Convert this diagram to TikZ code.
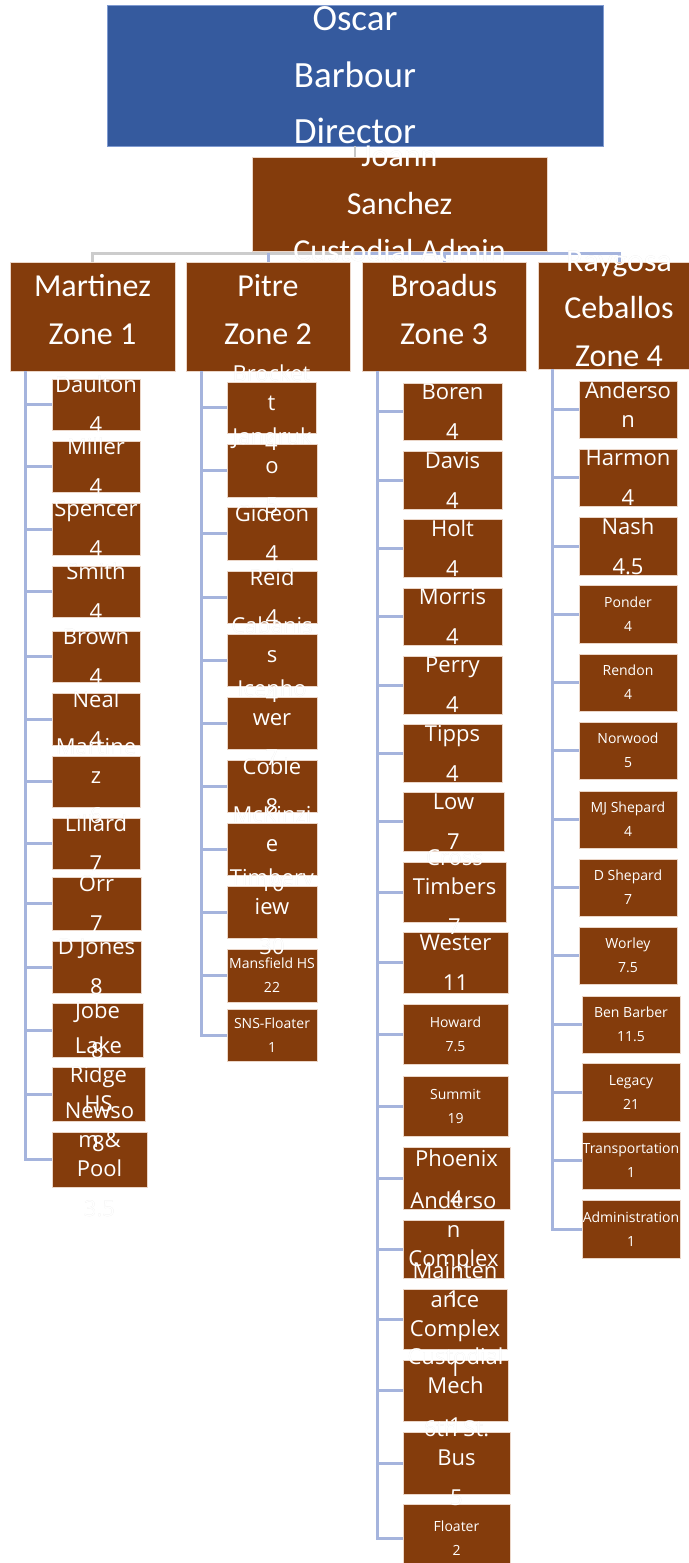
\documentclass[tikz,border=0pt]{standalone}
\usepackage{fontspec}
\newfontfamily\headfont{Carlito}
\newfontfamily\memberfont{Open Sans}
\usetikzlibrary{calc}
\pgfdeclarelayer{background}
\pgfdeclarelayer{foreground}
\pgfsetlayers{background,main,foreground}

\definecolor{custbrown}{HTML}{843C0C}
\definecolor{brownedge}{HTML}{EBD6C8}
\definecolor{chiefblue}{HTML}{355A9E}
\definecolor{chiefedge}{HTML}{7F9AD0}
\definecolor{linkblue}{HTML}{A5B4DD}
\definecolor{ghostgray}{HTML}{E2E2E2}

\tikzset{
  unit/.style={draw=brownedge, line width=0.8pt, fill=custbrown, inner sep=0pt, outer sep=0pt},
  chief/.style={unit, fill=chiefblue, draw=chiefedge},
  unittext/.style={text=white, align=center, inner sep=0pt},
  ghost/.style={text=ghostgray, align=center, inner sep=0pt},
  chieftext/.style={font=\headfont\fontsize{37}{56.5}\selectfont},
  headtext/.style={font=\headfont\fontsize{32}{47.5}\selectfont},
  zonetext/.style={headtext, yshift=7pt},
  bigtext/.style={font=\memberfont\fontsize{22}{29}\selectfont},
  bigup/.style={bigtext, yshift=5pt},
  smalltext/.style={font=\memberfont\fontsize{14}{24}\selectfont},
  link/.style={draw=linkblue, line width=3pt},
}

% name, left, top, right, bottom, box style, text style, text
\newcommand{\orgunit}[8]{%
  \node[#6, minimum width={(#4-#2)*1pt}, minimum height={(#5-#3)*1pt}] (#1) at ({(#2+#4)/2},{(#3+#5)/2}) {};
  \begin{pgfonlayer}{background}
    \node[ghost, #7] at (#1) {#8};
  \end{pgfonlayer}
  \begin{pgfonlayer}{foreground}
    \node[unittext, #7] at (#1) {#8};
  \end{pgfonlayer}}

\begin{document}
\begin{tikzpicture}[x=1pt, y=-1pt]
\useasboundingbox (0,0) rectangle (688,1563);

% top of the chart
\orgunit{oscar}{107}{5}{603}{146}{chief}{chieftext}{Oscar\\Barbour\\Director}
\orgunit{joann}{252}{157}{547}{251}{unit}{headtext}{Joann\\Sanchez\\Custodial Admin}
\draw[gray!45, line width=1.5pt] (oscar.south) -- (oscar.south |- joann.north);

% zone heads
\orgunit{zone1}{10}{262}{175}{371}{unit}{zonetext}{Martinez\\Zone 1}
\orgunit{zone2}{186}{262}{350}{371}{unit}{zonetext}{Pitre\\Zone 2}
\orgunit{zone3}{362}{262}{526}{371}{unit}{zonetext}{Broadus\\Zone 3}
\orgunit{zone4}{538}{262}{700}{369}{unit}{zonetext}{Raygosa\\Ceballos\\Zone 4}

\coordinate (bus) at (355,253);
\draw[link, draw=gray!40] (zone1.north) |- (bus);
\draw[link] (bus) -| (zone4.north);
\draw[link] (zone2.north) -- (zone2.north |- bus);
\draw[link] (zone3.north) -- (zone3.north |- bus);

\coordinate (spine1) at (25,371);
\coordinate (spine2) at (201,371);
\coordinate (spine3) at (377,371);
\coordinate (spine4) at (552,369);

% zone 1
\foreach \n/\t/\r/\b/\f/\s in {
  daulton/379/140/430/bigtext/{Daulton\\[11pt]4},
  miller/441/140/492/bigtext/{Miller\\[11pt]4},
  spencer/503/140/555/bigtext/{Spencer\\[11pt]4},
  smith/566/140/617/bigtext/{Smith\\[11pt]4},
  brown/631/140/682/bigtext/{Brown\\[11pt]4},
  neal/693/140/745/bigtext/{Neal\\[11pt]4},
  martinez/756/140/807/bigtext/{Martine\\z\\[11pt]6},
  lillard/818/140/869/bigtext/{Lillard\\[11pt]7},
  orr/877/141/930/bigtext/{Orr\\[11pt]7},
  djones/941/141/993/bigtext/{D Jones\\[11pt]8},
  jobe/1003/143/1057/bigtext/{Jobe\\[11pt]8},
  lakeridge/1067/145/1121/bigtext/{Lake\\Ridge\\HS\\[11pt]8},
  newsom/1132/147/1187/bigtext/{Newso\\m \&\\Pool\\[11pt]3.5}}
{
  \orgunit{\n}{52}{\t}{\r}{\b}{unit}{\f}{\s}
  \draw[link] (spine1) |- (\n.west);
}

% zone 2
\foreach \n/\t/\r/\b/\f/\s in {
  brockett/382/316/433/bigtext/{Brocket\\t\\[11pt]4},
  jandruko/444/317/497/bigtext/{Jandruk\\o\\[11pt]5},
  gideon/507/317/560/bigtext/{Gideon\\[11pt]4},
  reid/571/317/623/bigtext/{Reid\\[11pt]4},
  cabaniss/634/317/686/bigtext/{Cabanis\\s\\[11pt]4},
  icenhower/697/317/749/bigtext/{Icenho\\wer\\[11pt]7},
  coble/760/317/812/bigtext/{Coble\\[11pt]8},
  mckinzie/823/317/875/bigtext/{McKinzi\\e\\[11pt]10},
  timberview/886/317/938/bigtext/{Timberv\\iew\\[11pt]30},
  mansfield/949/317/1002/smalltext/{Mansfield HS\\22},
  snsfloater/1009/317/1061/smalltext/{SNS-Floater\\1}}
{
  \orgunit{\n}{227}{\t}{\r}{\b}{unit}{\f}{\s}
  \draw[link] (spine2) |- (\n.west);
}

% zone 3
\foreach \n/\t/\r/\b/\f/\s in {
  boren/383/502/440/bigtext/{Boren\\[11pt]4},
  davis/451/502/509/bigtext/{Davis\\[11pt]4},
  holt/519/502/577/bigtext/{Holt\\[11pt]4},
  morris/588/502/645/bigtext/{Morris\\[11pt]4},
  perry/656/502/714/bigtext/{Perry\\[11pt]4},
  tipps/724/502/782/bigtext/{Tipps\\[11pt]4},
  low/792/504/851/bigtext/{Low\\[11pt]7},
  crosstimbers/862/506/922/bigtext/{Cross\\Timbers\\[11pt]7},
  wester/932/508/993/bigtext/{Wester\\[11pt]11},
  howard/1004/508/1064/smalltext/{Howard\\7.5},
  summit/1076/508/1136/smalltext/{Summit\\19},
  phoenix/1147/510/1209/bigtext/{Phoenix\\[11pt]4},
  andersoncx/1220/504/1278/bigtext/{Anderso\\n\\Complex\\[11pt]1},
  maintenance/1289/507/1349/bigtext/{Mainten\\ance\\Complex\\[11pt]1},
  custmech/1360/508/1421/bigtext/{Custodial\\Mech\\[11pt]1},
  sixthbus/1432/510/1494/bigtext/{6th St.\\Bus\\[11pt]5},
  floater/1504/510/1572/smalltext/{Floater\\2}}
{
  \orgunit{\n}{403}{\t}{\r}{\b}{unit}{\f}{\s}
  \draw[link] (spine3) |- (\n.west);
}

% zone 4
\foreach \n/\l/\t/\r/\b/\f/\s in {
  anderson/579/381/677/438/bigup/{Anderso\\n},
  harmon/579/449/677/506/bigtext/{Harmon\\[11pt]4},
  nash/579/517/677/575/bigtext/{Nash\\[11pt]4.5},
  ponder/579/585/677/643/smalltext/{Ponder\\4},
  rendon/579/654/677/711/smalltext/{Rendon\\4},
  norwood/579/722/677/779/smalltext/{Norwood\\5},
  mjshepard/579/791/677/848/smalltext/{MJ Shepard\\4},
  dshepard/579/859/677/916/smalltext/{D Shepard\\7},
  worley/579/927/677/984/smalltext/{Worley\\7.5},
  benbarber/582/996/680/1053/smalltext/{Ben Barber\\11.5},
  legacy/582/1063/680/1121/smalltext/{Legacy\\21},
  transport/582/1132/680/1189/smalltext/{Transportation\\1},
  admin/582/1200/680/1258/smalltext/{Administration\\1}}
{
  \orgunit{\n}{\l}{\t}{\r}{\b}{unit}{\f}{\s}
  \draw[link] (spine4) |- (\n.west);
}
\end{tikzpicture}
\end{document}
